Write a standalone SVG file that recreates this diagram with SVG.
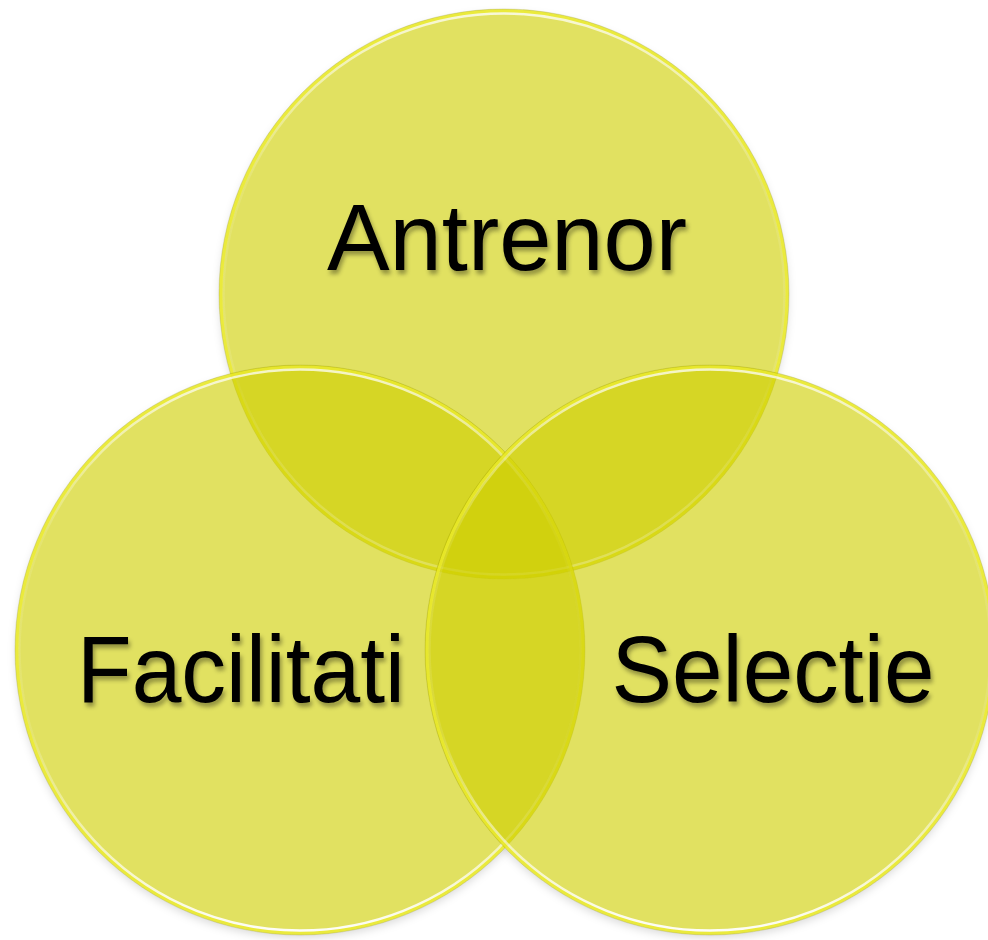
<svg xmlns="http://www.w3.org/2000/svg" width="988" height="940" viewBox="0 0 988 940">
  <defs>
    <filter id="tshadow" x="-10%" y="-20%" width="120%" height="150%">
      <feDropShadow dx="2" dy="4" stdDeviation="2.2" flood-color="#000" flood-opacity="0.35"/>
    </filter>
    <filter id="cshadow" x="-10%" y="-10%" width="120%" height="120%">
      <feGaussianBlur stdDeviation="4"/>
    </filter>
    <mask id="outside" maskUnits="userSpaceOnUse" x="0" y="0" width="988" height="940">
      <rect width="988" height="940" fill="#fff"/>
      <circle cx="504" cy="294" r="285" fill="#000"/>
      <circle cx="300" cy="650" r="285" fill="#000"/>
      <circle cx="710" cy="650" r="285" fill="#000"/>
    </mask>
    <linearGradient id="hl" x1="0" y1="0" x2="0" y2="1">
      <stop offset="0" stop-color="#FFFFFF" stop-opacity="0.75"/>
      <stop offset="0.3" stop-color="#FFFFFF" stop-opacity="0.1"/>
      <stop offset="0.65" stop-color="#FFFFFF" stop-opacity="0.1"/>
      <stop offset="1" stop-color="#FFFFFF" stop-opacity="0.95"/>
    </linearGradient>
  </defs>
  <style>
    .fill { fill: rgb(206,206,0); fill-opacity: 0.62; }
    .rim { fill: none; stroke: #EDED30; stroke-opacity: 0.75; stroke-width: 3; }
    .hl { fill: none; stroke: url(#hl); stroke-width: 2.5; }
    .edge { fill: none; stroke: #8a8a00; stroke-opacity: 0.22; stroke-width: 1; }
    .shadow { fill: #000; fill-opacity: 0.14; filter: url(#cshadow); }
    .label { font-family: "Liberation Sans", Arial, sans-serif; font-size: 95px; fill: #000; text-anchor: middle; filter: url(#tshadow); }
  </style>
  <rect width="988" height="940" fill="#fff"/>
  <g id="shadows" mask="url(#outside)">
    <circle class="shadow" cx="504" cy="298" r="284"/>
    <circle class="shadow" cx="300" cy="654" r="284"/>
    <circle class="shadow" cx="710" cy="654" r="284"/>
  </g>
  <g id="node-antrenor">
    <circle class="fill" cx="504" cy="294" r="285"/>
    <circle class="rim" cx="504" cy="294" r="283"/>
    <circle class="hl" cx="504" cy="294" r="280.5"/>
    <circle class="edge" cx="504" cy="294" r="285"/>
  </g>
  <g id="node-facilitati">
    <circle class="fill" cx="300" cy="650" r="285"/>
    <circle class="rim" cx="300" cy="650" r="283"/>
    <circle class="hl" cx="300" cy="650" r="280.5"/>
    <circle class="edge" cx="300" cy="650" r="285"/>
  </g>
  <g id="node-selectie">
    <circle class="fill" cx="710" cy="650" r="285"/>
    <circle class="rim" cx="710" cy="650" r="283"/>
    <circle class="hl" cx="710" cy="650" r="280.5"/>
    <circle class="edge" cx="710" cy="650" r="285"/>
  </g>
  <g id="labels">
    <text class="label" x="507" y="270" textLength="360" lengthAdjust="spacingAndGlyphs">Antrenor</text>
    <text class="label" x="241" y="702" textLength="328" lengthAdjust="spacingAndGlyphs">Facilitati</text>
    <text class="label" x="773" y="702" textLength="323" lengthAdjust="spacingAndGlyphs">Selectie</text>
  </g>
</svg>
